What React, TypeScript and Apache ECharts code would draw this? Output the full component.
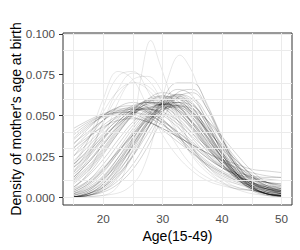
import React, { useEffect, useRef } from "react";
import * as echarts from "echarts";

const AGES = [15, 17.5, 20, 22.5, 25, 27.5, 30, 32.5, 35, 37.5, 40, 42.5, 45, 47.5, 50];

// Density values in per-mille (x 0.001), one row per curve
const youngCurves: number[][] = [
  [42, 47, 51, 53, 52, 49, 44, 38, 31, 24, 18, 14, 11, 9, 8],
  [38, 45, 50, 52, 51, 47, 41, 34, 27, 20, 15, 11, 8, 6, 5],
  [35, 43, 50, 54, 54, 51, 45, 37, 29, 21, 15, 10, 7, 5, 4],
  [33, 40, 47, 52, 54, 52, 47, 40, 32, 24, 18, 14, 12, 11, 10],
  [30, 39, 47, 53, 55, 53, 47, 39, 30, 22, 16, 12, 10, 9, 8],
  [28, 36, 44, 50, 54, 54, 50, 43, 34, 26, 19, 15, 13, 12, 12],
  [40, 46, 50, 51, 49, 46, 42, 37, 32, 27, 22, 18, 15, 13, 12],
  [25, 36, 47, 55, 58, 55, 48, 38, 28, 20, 14, 10, 7, 5, 4],
  [32, 42, 50, 55, 56, 52, 45, 36, 27, 19, 13, 9, 6, 4, 3],
  [36, 44, 49, 52, 52, 50, 46, 40, 33, 25, 18, 13, 9, 7, 6],
  [30, 37, 43, 47, 48, 46, 42, 37, 32, 27, 23, 20, 17, 16, 15],
];

const tallCurves: number[][] = [
  [18, 35, 60, 77, 72, 55, 38, 25, 16, 10, 7, 5, 4, 3, 2],
  [15, 30, 55, 74, 77, 65, 47, 31, 19, 12, 8, 5, 4, 3, 2],
  [10, 24, 46, 66, 76, 72, 58, 40, 25, 15, 9, 6, 4, 3, 2],
  [20, 35, 52, 65, 70, 66, 54, 39, 26, 17, 11, 8, 6, 4, 3],
  [12, 26, 45, 62, 70, 68, 58, 44, 30, 19, 12, 8, 5, 3, 2],
  [5, 15, 35, 58, 72, 74, 64, 47, 31, 19, 11, 6, 4, 2, 1],
];

const middleCurves: number[][] = [
  [22, 31, 41, 50, 56, 58, 55, 47, 36, 26, 18, 12, 8, 5, 4],
  [18, 27, 38, 48, 55, 58, 56, 49, 39, 28, 19, 13, 9, 6, 4],
  [15, 24, 35, 46, 54, 58, 57, 51, 41, 30, 20, 13, 8, 5, 3],
  [20, 29, 39, 47, 52, 54, 52, 47, 39, 31, 23, 17, 12, 9, 7],
  [12, 21, 32, 43, 52, 57, 58, 53, 43, 32, 22, 14, 9, 6, 4],
  [25, 33, 42, 49, 53, 54, 51, 45, 37, 29, 22, 16, 12, 9, 7],
  [10, 18, 29, 41, 51, 58, 60, 56, 46, 34, 23, 14, 9, 5, 3],
  [16, 25, 36, 46, 54, 59, 59, 53, 42, 30, 20, 12, 7, 4, 2],
  [14, 22, 33, 44, 53, 60, 62, 57, 45, 32, 21, 13, 8, 5, 3],
  [8, 16, 27, 39, 50, 58, 62, 59, 49, 36, 24, 15, 9, 5, 3],
  [20, 28, 37, 45, 51, 55, 56, 53, 46, 37, 27, 19, 13, 9, 6],
  [11, 19, 30, 42, 52, 59, 61, 56, 45, 33, 22, 14, 9, 6, 4],
  [18, 26, 36, 45, 52, 57, 58, 54, 45, 35, 25, 17, 11, 7, 5],
  [6, 14, 26, 39, 51, 60, 64, 61, 51, 37, 24, 14, 8, 4, 2],
  [12, 21, 32, 43, 51, 55, 55, 50, 42, 31, 20, 11, 5, 2, 1],
  [9, 17, 28, 40, 50, 56, 57, 52, 43, 31, 20, 11, 5, 2, 1],
  [6, 13, 23, 35, 46, 54, 57, 54, 46, 34, 22, 12, 6, 2, 1],
  [4, 10, 20, 32, 44, 53, 57, 55, 48, 36, 23, 12, 6, 2, 1],
];

const lateCurves: number[][] = [
  [0, 3, 10, 22, 36, 50, 60, 62, 55, 40, 24, 12, 5, 2, 1],
  [0, 2, 7, 16, 28, 42, 55, 63, 60, 47, 30, 15, 6, 2, 0.5],
  [1, 4, 11, 21, 33, 45, 55, 60, 57, 46, 32, 19, 10, 5, 2],
  [0, 3, 9, 19, 32, 46, 57, 61, 55, 41, 26, 14, 7, 3, 1],
  [2, 6, 13, 24, 36, 48, 56, 58, 52, 40, 27, 16, 9, 4, 2],
  [0, 1, 5, 13, 26, 42, 58, 66, 62, 46, 27, 12, 4, 1, 0],
  [1, 5, 12, 22, 34, 46, 54, 56, 52, 43, 32, 22, 13, 7, 4],
  [0, 2, 8, 18, 31, 45, 56, 60, 54, 42, 30, 19, 11, 6, 3],
  [3, 8, 16, 27, 38, 48, 54, 55, 50, 41, 31, 22, 14, 8, 5],
  [0, 1, 4, 10, 20, 35, 52, 64, 66, 54, 34, 16, 6, 2, 0.5],
  [4, 9, 17, 28, 39, 49, 55, 56, 51, 41, 30, 20, 12, 7, 3],
  [0, 2, 6, 14, 25, 39, 52, 60, 60, 50, 35, 20, 9, 3, 1],
  [2, 5, 11, 20, 31, 43, 53, 58, 56, 47, 35, 23, 13, 6, 2],
  [0, 1, 3, 8, 17, 31, 48, 61, 64, 54, 36, 18, 7, 2, 0.5],
  [5, 10, 18, 28, 38, 47, 53, 56, 54, 47, 37, 26, 16, 9, 5],
  [0, 1, 4, 12, 25, 42, 60, 70, 70, 56, 36, 18, 7, 2, 0.5],
  [0, 1, 6, 17, 32, 47, 58, 62, 57, 44, 28, 14, 5, 1.5, 0.5],
  [1, 4, 12, 24, 38, 50, 57, 58, 52, 40, 26, 14, 6, 2, 1],
  [0, 2, 8, 20, 35, 49, 58, 60, 53, 39, 24, 12, 5, 2, 0.5],
  [3, 8, 17, 29, 42, 52, 57, 56, 49, 37, 24, 13, 6, 2, 1],
  [2, 7, 15, 27, 40, 51, 57, 57, 51, 39, 26, 14, 7, 3, 1],
  [0, 2, 6, 15, 29, 45, 58, 63, 58, 44, 28, 14, 6, 2, 0.5],
];

// Two narrow-peaked curves, read as [age, per-mille]
const peakedCurves: [number, number][][] = [
  [[15, 0], [20, 1], [23, 10], [25, 40], [26.5, 76], [28, 96], [29.5, 82], [31, 66], [33, 46], [35, 30], [37.5, 17], [40, 9], [43, 4], [46, 1.5], [50, 0.5]],
  [[15, 0], [22, 2], [25, 8], [27, 20], [29, 45], [31, 74], [32.9, 87], [34.5, 80], [36, 68], [37.5, 57], [39, 45], [41, 30], [43, 18], [46, 7], [50, 2]],
];

const X_TICKS = [20, 30, 40, 50];
const Y_TICKS = [0, 0.025, 0.05, 0.075, 0.1];
const X_GRID = [15, 20, 25, 30, 35, 40, 45, 50];
const Y_GRID = [0, 0.0125, 0.025, 0.0375, 0.05, 0.0625, 0.075, 0.0875, 0.1];

export default function App() {
  const ref = useRef<HTMLDivElement>(null);

  useEffect(() => {
    if (!ref.current) return;
    const chart = echarts.init(ref.current, undefined, { renderer: "svg" });
    const font = "'Liberation Sans', Arial, sans-serif";

    const toPairs = (vals: number[]) => vals.map((v, i) => [AGES[i], v / 1000]);
    const lineSeries = (data: number[][], alpha: number) => ({
      type: "line",
      data,
      showSymbol: false,
      smooth: 0.4,
      silent: true,
      z: 3,
      lineStyle: { color: `rgba(0,0,0,${alpha})`, width: 0.6 },
    });

    const curveSeries = [
      ...[...youngCurves, ...middleCurves, ...lateCurves].map((v) => lineSeries(toPairs(v), 0.28)),
      ...tallCurves.map((v) => lineSeries(toPairs(v), 0.16)),
      ...peakedCurves.map((pts) => lineSeries(pts.map(([a, v]) => [a, v / 1000]), 0.16)),
    ];

    const gridSeries = {
      type: "line",
      data: [],
      silent: true,
      z: 1,
      markLine: {
        silent: true,
        symbol: ["none", "none"],
        label: { show: false },
        emphasis: { disabled: true },
        animation: false,
        lineStyle: { color: "#ebebeb", type: "solid", width: 1 },
        data: [
          ...X_GRID.map((x) => ({ xAxis: x })),
          ...Y_GRID.map((y) => ({ yAxis: y })),
        ],
      },
    };

    chart.setOption({
      animation: false,
      backgroundColor: "#ffffff",
      grid: {
        left: 63,
        top: 33,
        width: 229,
        height: 172,
        show: true,
        borderColor: "#333333",
        borderWidth: 1,
        backgroundColor: "#ffffff",
        outerBoundsMode: "none",
        containLabel: false,
      },
      xAxis: {
        type: "value",
        min: 13.25,
        max: 51.75,
        name: "Age(15-49)",
        nameLocation: "middle",
        nameGap: 24,
        nameMoveOverlap: false,
        nameTextStyle: { color: "#000000", fontSize: 14, fontFamily: font },
        axisLine: { show: false },
        splitLine: { show: false },
        axisTick: {
          show: true,
          customValues: X_TICKS,
          length: 4,
          lineStyle: { color: "#333333", width: 1 },
        },
        axisLabel: {
          customValues: X_TICKS,
          color: "#4d4d4d",
          fontSize: 11.7,
          fontFamily: font,
          margin: 7,
        },
      },
      yAxis: {
        type: "value",
        min: -0.0049,
        max: 0.1006,
        name: "Density of mother's age at birth",
        nameLocation: "middle",
        nameGap: 40,
        nameMoveOverlap: false,
        nameTextStyle: { color: "#000000", fontSize: 14, fontFamily: font },
        axisLine: { show: false },
        splitLine: { show: false },
        axisTick: {
          show: true,
          customValues: Y_TICKS,
          length: 4,
          lineStyle: { color: "#333333", width: 1 },
        },
        axisLabel: {
          customValues: Y_TICKS,
          color: "#4d4d4d",
          fontSize: 11.7,
          fontFamily: font,
          margin: 8,
          formatter: (v: number) => v.toFixed(3),
        },
      },
      series: [gridSeries, ...curveSeries],
    });

    return () => chart.dispose();
  }, []);

  return (
    <div
      ref={ref}
      style={{ position: "fixed", left: 0, top: 0, width: 300, height: 250 }}
    />
  );
}
